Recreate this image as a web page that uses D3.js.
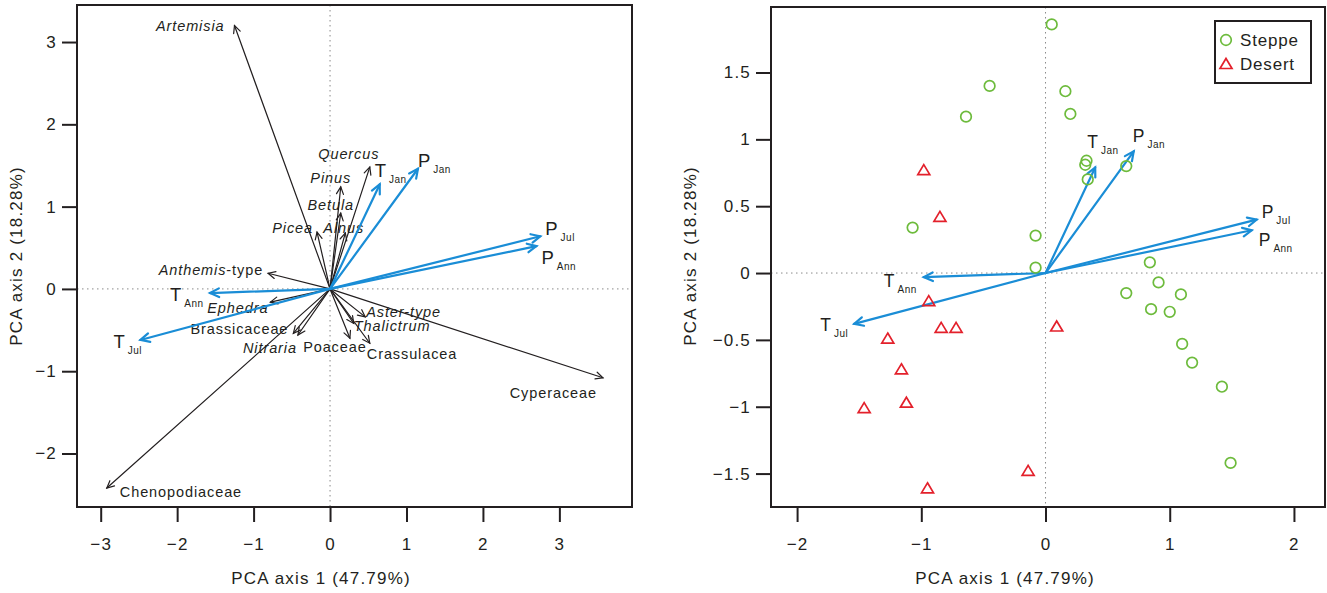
<!DOCTYPE html>
<html><head><meta charset="utf-8">
<script src="https://cdn.jsdelivr.net/npm/d3@7"></script>
<style>
body{margin:0;background:#fff}
svg{display:block}
text{font-family:"Liberation Sans",Arial,sans-serif;fill:#231f20}
</style>
</head><body>
<svg id="chart" width="1327" height="593"></svg>
<script>
// ---------------- DATA ----------------
const speciesNames = ["Artemisia","Quercus","Pinus","Betula","Picea","Alnus","Anthemis-type","Ephedra","Brassicaceae","Nitraria","Poaceae","Crassulacea","Aster-type","Thalictrum","Cyperaceae","Chenopodiaceae"];
const speciesPC1 = [-1.25, 0.52, 0.14, 0.14, -0.17, 0.20, -0.81, -0.78, -0.48, -0.42, 0.26, 0.52, 0.46, 0.31, 3.57, -2.92];
const speciesPC2 = [ 3.20, 1.48, 1.24, 0.92,  0.69, 0.68,  0.19, -0.16, -0.54, -0.56, -0.60, -0.66, -0.34, -0.42, -1.08, -2.42];

const envMain = ["T","P","P","P","T","T"];
const envSub  = ["Jan","Jan","Jul","Ann","Ann","Jul"];
const envPC1Left  = [0.65, 1.15, 2.75, 2.70, -1.57, -2.48];
const envPC2Left  = [1.27, 1.46, 0.64, 0.52, -0.05, -0.62];
const envPC1Right = [0.40, 0.71, 1.70, 1.66, -0.98, -1.54];
const envPC2Right = [0.79, 0.91, 0.40, 0.32, -0.03, -0.38];

const steppePC1 = [0.05, -0.45, -0.64, 0.16, 0.20, 0.33, 0.32, 0.34, -1.07, -0.08, -0.08, 0.65, 0.84, 0.91, 0.65, 1.09, 0.85, 1.00, 1.10, 1.18, 1.42, 1.49];
const steppePC2 = [1.86, 1.40, 1.17, 1.36, 1.19, 0.84, 0.81, 0.70, 0.34, 0.28, 0.04, 0.80, 0.08, -0.07, -0.15, -0.16, -0.27, -0.29, -0.53, -0.67, -0.85, -1.42];
const desertPC1 = [-0.98, -0.85, -0.94, -0.84, -0.72, 0.09, -1.27, -1.16, -1.12, -1.46, -0.14, -0.95];
const desertPC2 = [0.77, 0.42, -0.21, -0.41, -0.41, -0.40, -0.49, -0.72, -0.97, -1.01, -1.48, -1.61];

const leftXTicks = [-3,-2,-1,0,1,2,3];
const leftYTicks = [-2,-1,0,1,2,3];
const rightXTicks = [-2,-1,0,1,2];
const rightYTicks = [-1.5,-1,-0.5,0,0.5,1,1.5];
const legendLabels = ["Steppe","Desert"];
const xTitle = "PCA axis 1 (47.79%)";
const yTitle = "PCA axis 2 (18.28%)";

// ---------------- LAYOUT ----------------
const L = {x0:77, x1:632, y0:5, y1:507};
const R = {x0:771, x1:1325, y0:7, y1:507};
const colBlue = "#1a8dd6", colInk = "#231f20", colGreen = "#6dbb3c", colRed = "#e3202b";

const xL = d3.scaleLinear().domain([-3.31, 3.95]).range([L.x0, L.x1]);
const yL = d3.scaleLinear().domain([-2.65, 3.45]).range([L.y1, L.y0]);
const xR = d3.scaleLinear().domain([-2.21, 2.25]).range([R.x0, R.x1]);
const yR = d3.scaleLinear().domain([-1.75, 1.99]).range([R.y1, R.y0]);

// label placement (pixels relative to arrow tip): [anchor, dx, dy, italicPart]
const speciesLab = [
  ["end",-10,5,"all"],["middle",-21,-8,"all"],["middle",-10,-4,"all"],["middle",-10,-3,"all"],
  ["end",-4,1,"all"],["start",-22,0,"all"],["end",-5,2,"Anthemis"],["end",-2,11,"all"],
  ["end",-5,1,"none"],["end",-1,18,"all"],["middle",-15,14,"none"],["start",-3,16,"none"],
  ["start",1,0,"all"],["start",0,8,"all"],["end",-6,20,"none"],["start",13,9,"none"]
];
const envLabLeft  = [[-5,-7],[0,-2],[5,-1],[5,18],[-40,8],[-27,8]];
const envLabRight = [[-8,-19],[-1,-9],[5,-2],[7,16],[-40,10],[-34,7]];

const svg = d3.select("#chart");
const fmt = d => d < 0 ? "\u2212" + Math.abs(d) : String(d);

function arrow(g, x0, y0, x1, y1, color, w, h, ang) {
  const a = Math.atan2(y1 - y0, x1 - x0);
  g.append("line").attr("x1", x0).attr("y1", y0).attr("x2", x1).attr("y2", y1)
    .attr("stroke", color).attr("stroke-width", w).attr("stroke-linecap","round");
  const p = [[x1 - h*Math.cos(a-ang), y1 - h*Math.sin(a-ang)],[x1,y1],[x1 - h*Math.cos(a+ang), y1 - h*Math.sin(a+ang)]];
  g.append("path").attr("d", d3.line()(p)).attr("fill","none").attr("stroke",color)
    .attr("stroke-width", w).attr("stroke-linejoin","miter").attr("stroke-linecap","round");
}

function frame(P, xs, ys, xt, yt) {
  const g = svg.append("g");
  g.append("line").attr("x1", xs(0)).attr("x2", xs(0)).attr("y1", P.y0).attr("y2", P.y1)
    .attr("stroke","#8a8a8a").attr("stroke-width",1).attr("stroke-dasharray","1.5,3.5");
  g.append("line").attr("y1", ys(0)).attr("y2", ys(0)).attr("x1", P.x0).attr("x2", P.x1)
    .attr("stroke","#8a8a8a").attr("stroke-width",1).attr("stroke-dasharray","1.5,3.5");
  const ax = svg.append("g").attr("transform",`translate(0,${P.y1})`)
    .call(d3.axisBottom(xs).tickValues(xt).tickFormat(fmt).tickSize(15).tickPadding(16));
  const ay = svg.append("g").attr("transform",`translate(${P.x0},0)`)
    .call(d3.axisLeft(ys).tickValues(yt).tickFormat(fmt).tickSize(15).tickPadding(5));
  [ax, ay].forEach(a => {
    a.select(".domain").remove();
    a.selectAll("line").attr("stroke", colInk).attr("stroke-width", 2);
    a.selectAll("text").attr("font-size", 17).attr("font-family","Liberation Sans, Arial, sans-serif").attr("fill", colInk).style("letter-spacing","1.2px");
  });
  svg.append("rect").attr("x",P.x0).attr("y",P.y0).attr("width",P.x1-P.x0).attr("height",P.y1-P.y0)
    .attr("fill","none").attr("stroke",colInk).attr("stroke-width",2);
  return g;
}

// ---------------- LEFT PANEL ----------------
const gL = frame(L, xL, yL, leftXTicks, leftYTicks);
speciesNames.forEach((n, i) => {
  const tx = xL(speciesPC1[i]), ty = yL(speciesPC2[i]);
  arrow(gL, xL(0), yL(0), tx, ty, colInk, 1.2, 8, 0.45);
  const [anc, dx, dy, it] = speciesLab[i];
  const t = gL.append("text").attr("x", tx + dx).attr("y", ty + dy).attr("text-anchor", anc)
    .attr("font-size", 14.5).style("letter-spacing","0.9px");
  if (it === "all") t.attr("font-style","italic").text(n);
  else if (it === "none") t.text(n);
  else {
    t.append("tspan").attr("font-style","italic").text(it);
    t.append("tspan").text(n.slice(it.length));
  }
});
envMain.forEach((m, i) => {
  const tx = xL(envPC1Left[i]), ty = yL(envPC2Left[i]);
  arrow(gL, xL(0), yL(0), tx, ty, colBlue, 2.2, 10, 0.45);
  const t = gL.append("text").attr("x", tx + envLabLeft[i][0]).attr("y", ty + envLabLeft[i][1]).attr("font-size", 18.5);
  t.append("tspan").text(m);
  t.append("tspan").attr("font-size", 10).attr("dx", 3).attr("dy", 6).style("letter-spacing","0.5px").text(envSub[i]);
});

// ---------------- RIGHT PANEL ----------------
const gR = frame(R, xR, yR, rightXTicks, rightYTicks);
envMain.forEach((m, i) => {
  const tx = xR(envPC1Right[i]), ty = yR(envPC2Right[i]);
  arrow(gR, xR(0), yR(0), tx, ty, colBlue, 2.2, 10, 0.45);
  const t = gR.append("text").attr("x", tx + envLabRight[i][0]).attr("y", ty + envLabRight[i][1]).attr("font-size", 17.5);
  t.append("tspan").text(m);
  t.append("tspan").attr("font-size", 10).attr("dx", 3).attr("dy", 6).style("letter-spacing","0.5px").text(envSub[i]);
});
const triPath = "M0,-5.5L6,4.5L-6,4.5Z";
gR.selectAll("circle.st").data(steppePC1).enter().append("circle")
  .attr("cx", (d) => xR(d)).attr("cy", (d, i) => yR(steppePC2[i])).attr("r", 5.3)
  .attr("fill","none").attr("stroke", colGreen).attr("stroke-width", 1.7);
gR.selectAll("path.de").data(desertPC1).enter().append("path")
  .attr("d", triPath).attr("transform", (d, i) => `translate(${xR(d)},${yR(desertPC2[i])})`)
  .attr("fill","none").attr("stroke", colRed).attr("stroke-width", 1.7);

// legend
const lg = svg.append("g");
lg.append("rect").attr("x",1215).attr("y",21).attr("width",96).attr("height",62)
  .attr("fill","#fff").attr("stroke",colInk).attr("stroke-width",2);
lg.append("circle").attr("cx",1226).attr("cy",40).attr("r",5.3).attr("fill","none").attr("stroke",colGreen).attr("stroke-width",1.7);
lg.append("path").attr("d",triPath).attr("transform","translate(1226,64)").attr("fill","none").attr("stroke",colRed).attr("stroke-width",1.7);
legendLabels.forEach((l, i) => lg.append("text").attr("x",1240).attr("y",46 + i*24).attr("font-size",17).style("letter-spacing","0.8px").text(l));

// axis titles
[[321, 16], [1005, 690]].forEach(([cx, yx]) => {
  svg.append("text").attr("x", cx).attr("y", 584).attr("text-anchor","middle").attr("font-size",17)
    .style("letter-spacing","1.2px").text(xTitle);
  svg.append("text").attr("transform", `translate(${yx + 6},256) rotate(-90)`).attr("text-anchor","middle")
    .attr("font-size",17).style("letter-spacing","1.2px").text(yTitle);
});
</script>
</body></html>
